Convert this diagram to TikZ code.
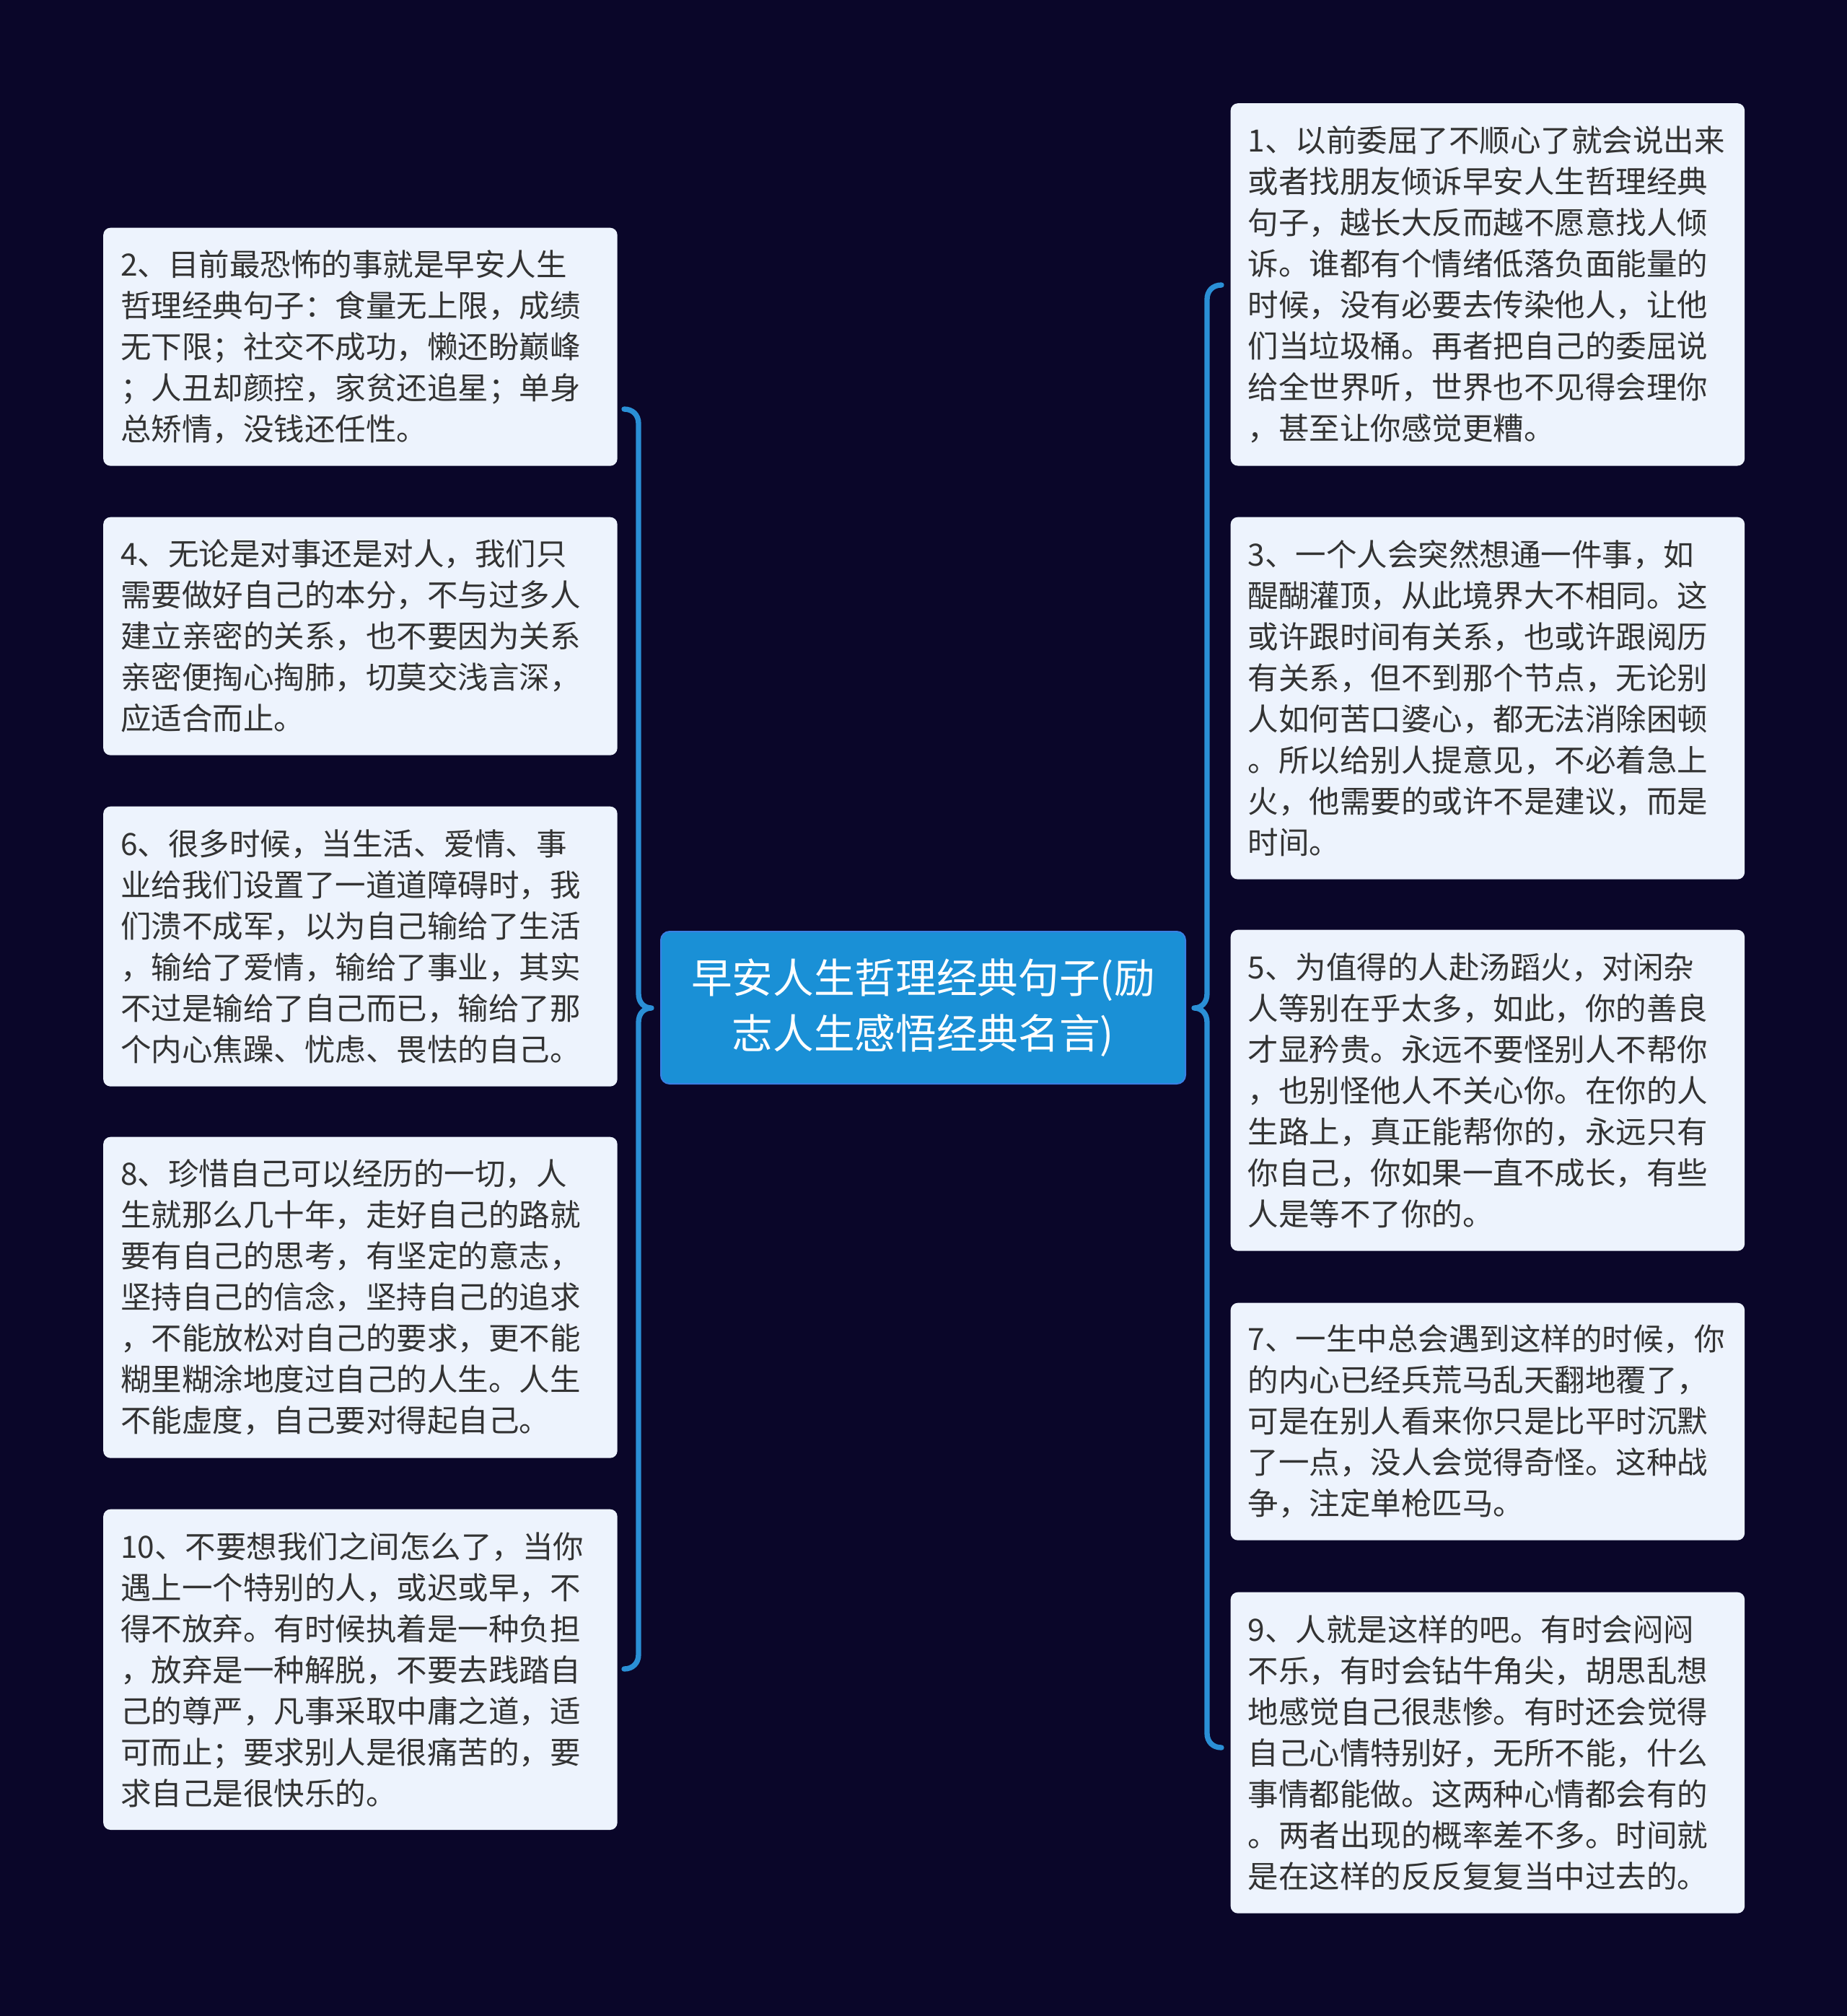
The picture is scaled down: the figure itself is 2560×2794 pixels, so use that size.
\documentclass[tikz,border=0pt]{standalone}
\usepackage{fontspec}
\newfontfamily\cjk{Noto Sans CJK SC}
\definecolor{bgc}{HTML}{0A0629}
\definecolor{bracec}{HTML}{2A8FD6}
\definecolor{rootfill}{HTML}{1A90D6}
\definecolor{rootdraw}{HTML}{3A80E4}
\definecolor{leaffill}{HTML}{EDF3FD}
\definecolor{leaftext}{HTML}{333333}
\tikzset{
  leaf/.style={fill=leaffill, rounded corners=3pt, anchor=north west,
    text width=199.35pt, inner xsep=7.2pt, inner ysep=2pt, align=left,
    text=leaftext, font=\cjk\fontsize{12.75pt}{17.1pt}\selectfont},
  rootbox/.style={fill=rootfill, draw=rootdraw, line width=0.6pt, rounded corners=3.6pt,
    minimum width=218.1pt, minimum height=63.3pt, align=center, text=white,
    font=\cjk\fontsize{17pt}{23pt}\selectfont},
  brace/.style={draw=bracec, line width=2.2pt, line cap=round, line join=round}
}
\begin{document}
\begin{tikzpicture}[x=0.3pt, y=-0.3pt]
\fill[bgc] (0,0) rectangle (2560,2794);
\useasboundingbox (0,0) rectangle (2560,2794);

\node[rootbox] (root) at (1279.5,1396.5) {早安人生哲理经典句子(励\\志人生感悟经典名言)};

% left leaves
\node[leaf, minimum height=99pt] (n2) at (142.5,315) {2、目前最恐怖的事就是早安人生\\哲理经典句子：食量无上限，成绩\\无下限；社交不成功，懒还盼巅峰\\；人丑却颜控，家贫还追星；单身\\总矫情，没钱还任性。};
\node[leaf, minimum height=99pt] (n4) at (142.5,716) {4、无论是对事还是对人，我们只\\需要做好自己的本分，不与过多人\\建立亲密的关系，也不要因为关系\\亲密便掏心掏肺，切莫交浅言深，\\应适合而止。};
\node[leaf, minimum height=116.4pt] (n6) at (142.5,1117) {6、很多时候，当生活、爱情、事\\业给我们设置了一道道障碍时，我\\们溃不成军，以为自己输给了生活\\，输给了爱情，输给了事业，其实\\不过是输给了自己而已，输给了那\\个内心焦躁、忧虑、畏怯的自己。};
\node[leaf, minimum height=133.5pt] (n8) at (142.5,1575) {8、珍惜自己可以经历的一切，人\\生就那么几十年，走好自己的路就\\要有自己的思考，有坚定的意志，\\坚持自己的信念，坚持自己的追求\\，不能放松对自己的要求，更不能\\糊里糊涂地度过自己的人生。人生\\不能虚度，自己要对得起自己。};
\node[leaf, minimum height=133.3pt] (n10) at (142.5,2091) {10、不要想我们之间怎么了，当你\\遇上一个特别的人，或迟或早，不\\得不放弃。有时候执着是一种负担\\，放弃是一种解脱，不要去践踏自\\己的尊严，凡事采取中庸之道，适\\可而止；要求别人是很痛苦的，要\\求自己是很快乐的。};

% right leaves
\node[leaf, minimum height=150.7pt] (n1) at (1705,142.5) {1、以前委屈了不顺心了就会说出来\\或者找朋友倾诉早安人生哲理经典\\句子，越长大反而越不愿意找人倾\\诉。谁都有个情绪低落负面能量的\\时候，没有必要去传染他人，让他\\们当垃圾桶。再者把自己的委屈说\\给全世界听，世界也不见得会理你\\，甚至让你感觉更糟。};
\node[leaf, minimum height=150.6pt] (n3) at (1705,716) {3、一个人会突然想通一件事，如\\醍醐灌顶，从此境界大不相同。这\\或许跟时间有关系，也或许跟阅历\\有关系，但不到那个节点，无论别\\人如何苦口婆心，都无法消除困顿\\。所以给别人提意见，不必着急上\\火，他需要的或许不是建议，而是\\时间。};
\node[leaf, minimum height=133.5pt] (n5) at (1705,1288) {5、为值得的人赴汤蹈火，对闲杂\\人等别在乎太多，如此，你的善良\\才显矜贵。永远不要怪别人不帮你\\，也别怪他人不关心你。在你的人\\生路上，真正能帮你的，永远只有\\你自己，你如果一直不成长，有些\\人是等不了你的。};
\node[leaf, minimum height=98.7pt] (n7) at (1705,1805) {7、一生中总会遇到这样的时候，你\\的内心已经兵荒马乱天翻地覆了，\\可是在别人看来你只是比平时沉默\\了一点，没人会觉得奇怪。这种战\\争，注定单枪匹马。};
\node[leaf, minimum height=133.5pt] (n9) at (1705,2206) {9、人就是这样的吧。有时会闷闷\\不乐，有时会钻牛角尖，胡思乱想\\地感觉自己很悲惨。有时还会觉得\\自己心情特别好，无所不能，什么\\事情都能做。这两种心情都会有的\\。两者出现的概率差不多。时间就\\是在这样的反反复复当中过去的。};

% brace end points
\coordinate (Ltop) at (865,567);
\coordinate (Lbot) at (865,2313);
\coordinate (Ltip) at (903,1397);
\coordinate (Rtop) at (1693,395);
\coordinate (Rbot) at (1693,2422);
\coordinate (Rtip) at (1655,1397);

% left brace
\draw[brace] (Ltop) .. controls (877,567) and (885,575) .. (885,587)
  -- (885,1377) .. controls (885,1390) and (893,1397) .. (Ltip)
  .. controls (893,1397) and (885,1404) .. (885,1417)
  -- (885,2293) .. controls (885,2305) and (877,2313) .. (Lbot);
% right brace
\draw[brace] (Rtop) .. controls (1681,395) and (1673,403) .. (1673,415)
  -- (1673,1377) .. controls (1673,1390) and (1665,1397) .. (Rtip)
  .. controls (1665,1397) and (1673,1404) .. (1673,1417)
  -- (1673,2402) .. controls (1673,2414) and (1681,2422) .. (Rbot);
\end{tikzpicture}
\end{document}
